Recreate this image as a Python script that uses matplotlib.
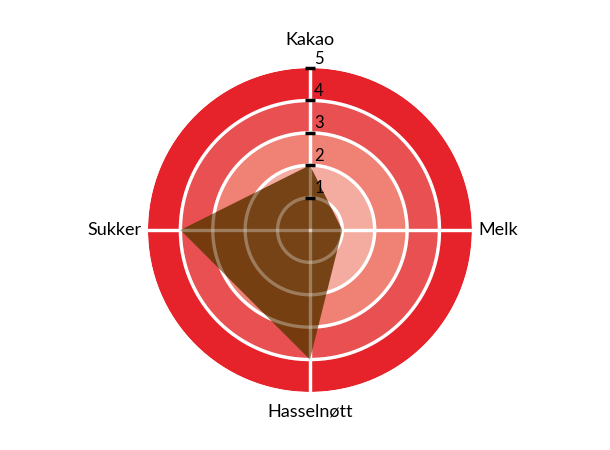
import numpy as np
import matplotlib
matplotlib.use("Agg")
import matplotlib.pyplot as plt

# Data
categories = ["Kakao", "Melk", "Hasselnøtt", "Sukker"]
values = [2, 1, 4, 4]
rings = [1, 2, 3, 4, 5]
band_colors = ["#f4aba0", "#f4aba0", "#ef8275", "#e85052", "#e6232b"]

plt.rcParams['font.family'] = ['Lato', 'DejaVu Sans']

fig = plt.figure(figsize=(6.1, 4.5), dpi=100)
ax = fig.add_axes([0.2426, 0.1289, 0.531, 0.72], projection='polar')
ax.set_theta_zero_location('N')
ax.set_theta_direction(-1)
ax.set_ylim(0, 5)
ax.axis('off')

angles = np.linspace(0, 2 * np.pi, len(categories), endpoint=False)

# Coloured rings
for i, c in enumerate(band_colors):
    ax.bar(0, 1, width=2 * np.pi, bottom=i, color=c, linewidth=0, zorder=1)

# White grid: circles and spokes
t = np.linspace(0, 2 * np.pi, 400)
for r in rings[:-1]:
    ax.plot(t, np.full_like(t, r), color='white', lw=2.4, zorder=2)
for a in angles:
    ax.plot([a, a], [0, 5], color='white', lw=2.4, zorder=2)

# Data polygon
ang_c = np.append(angles, angles[0])
val_c = values + values[:1]
ax.fill(ang_c, val_c, color='#6b3a0a', alpha=0.92, lw=0, zorder=3)

# Faint grid over the polygon
for r in rings[:-1]:
    ax.plot(t, np.full_like(t, r), color='white', lw=2.4, alpha=0.28, zorder=4)
for a in angles:
    ax.plot([a, a], [0, 5], color='white', lw=2.4, alpha=0.28, zorder=4)

# Ticks on the Kakao axis
ax.plot(np.zeros(len(rings)), rings, ls='none', marker='_', ms=7, mew=2.5,
        color='black', zorder=5, clip_on=False)
for r in rings:
    ax.annotate(str(r), xy=(0, r), xytext=(3, 1), textcoords='offset points',
                ha='left', va='bottom', fontsize=12, color='black', zorder=6,
                annotation_clip=False)

# Category labels
ax.text(0, 5.62, categories[0], ha='center', va='bottom', fontsize=13)
ax.text(angles[1], 5.2, categories[1], ha='left', va='center', fontsize=13)
ax.text(angles[2], 5.35, categories[2], ha='center', va='top', fontsize=13)
ax.text(angles[3], 5.2, categories[3], ha='right', va='center', fontsize=13)

fig.savefig("out.png", dpi=100)
